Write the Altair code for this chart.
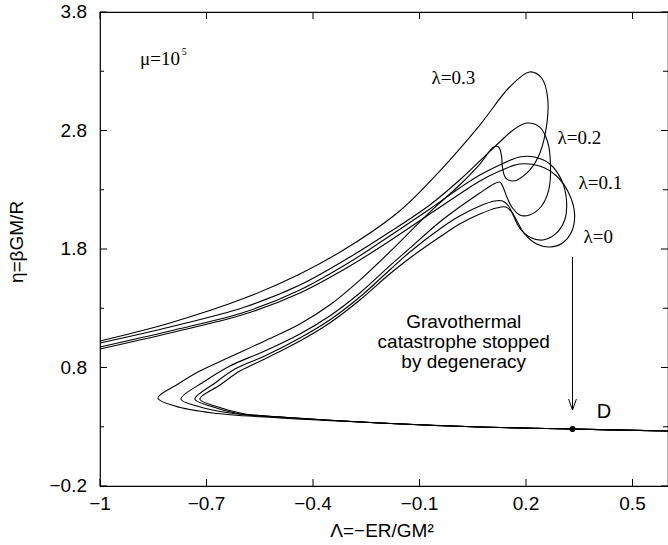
import altair as alt
import pandas as pd

# ---- data (x = Lambda, y = eta) ----
lam03_x = [-1.0, -0.803, -0.592, -0.437, -0.296, -0.156, -0.043, 0.070, 0.154, 0.210, 0.244, 0.261, 0.255,
           0.233, 0.202, 0.165, 0.143, 0.134, 0.131, 0.123, 0.109, 0.070, 0.013, -0.071, -0.184, -0.268,
           -0.353, -0.437, -0.536, -0.634, -0.719, -0.780, -0.837, -0.789, -0.682, -0.493,
           -0.212, 0.070, 0.331, 0.6]
lam03_y = [1.024, 1.176, 1.386, 1.589, 1.825, 2.121, 2.458, 2.846, 3.167, 3.294, 3.243, 3.074, 2.787,
           2.568, 2.441, 2.374, 2.399, 2.484, 2.585, 2.661, 2.661, 2.517, 2.340, 2.112, 1.775, 1.538,
           1.327, 1.167, 1.024, 0.889, 0.770, 0.661, 0.543, 0.475, 0.416, 0.374,
           0.332, 0.298, 0.281, 0.264]

lam02_x = [-1.0, -0.803, -0.592, -0.437, -0.296, -0.184, -0.071, 0.013, 0.070, 0.126, 0.168, 0.202, 0.238,
           0.261, 0.269, 0.264, 0.244, 0.210, 0.182, 0.160, 0.146, 0.134, 0.126, 0.109, 0.070, 0.013,
           -0.043, -0.127, -0.184, -0.268, -0.353, -0.437, -0.536, -0.634, -0.704, -0.772, -0.727,
           -0.634, -0.493, -0.212, 0.070, 0.331, 0.6]
lam02_y = [1.007, 1.142, 1.311, 1.496, 1.732, 1.943, 2.171, 2.382, 2.543, 2.703, 2.813, 2.863, 2.830,
           2.703, 2.509, 2.298, 2.163, 2.087, 2.087, 2.154, 2.239, 2.332, 2.365, 2.349, 2.273, 2.154,
           2.028, 1.808, 1.657, 1.429, 1.235, 1.083, 0.939, 0.813, 0.686, 0.534, 0.475,
           0.416, 0.382, 0.332, 0.298, 0.281, 0.264]

lam01_x = [-1.0, -0.803, -0.592, -0.437, -0.296, -0.184, -0.071, 0.013, 0.070, 0.126, 0.182, 0.224, 0.267,
           0.300, 0.314, 0.309, 0.283, 0.247, 0.210, 0.182, 0.165, 0.151, 0.134, 0.112, 0.070, 0.013,
           -0.043, -0.127, -0.184, -0.268, -0.353, -0.437, -0.536, -0.620, -0.676, -0.733, -0.690,
           -0.606, -0.493, -0.212, 0.070, 0.331, 0.6]
lam01_y = [0.973, 1.108, 1.268, 1.454, 1.690, 1.910, 2.138, 2.315, 2.424, 2.509, 2.576, 2.576, 2.517,
           2.382, 2.214, 2.045, 1.927, 1.876, 1.901, 1.977, 2.078, 2.163, 2.205, 2.205, 2.163, 2.078,
           1.969, 1.775, 1.623, 1.395, 1.201, 1.049, 0.897, 0.787, 0.669, 0.534, 0.475,
           0.408, 0.382, 0.332, 0.298, 0.281, 0.264]

lam00_x = [-1.0, -0.803, -0.592, -0.437, -0.296, -0.184, -0.071, 0.013, 0.070, 0.126, 0.182, 0.238, 0.286,
           0.323, 0.337, 0.328, 0.303, 0.267, 0.230, 0.196, 0.176, 0.160, 0.143, 0.117, 0.070, 0.013,
           -0.043, -0.127, -0.184, -0.268, -0.353, -0.437, -0.536, -0.606, -0.662, -0.719, -0.676,
           -0.592, -0.493, -0.212, 0.070, 0.331, 0.6]
lam00_y = [0.956, 1.091, 1.251, 1.429, 1.657, 1.868, 2.095, 2.264, 2.374, 2.458, 2.517, 2.500, 2.416,
           2.256, 2.087, 1.943, 1.851, 1.817, 1.842, 1.927, 2.028, 2.112, 2.154, 2.146, 2.095, 2.011,
           1.901, 1.724, 1.589, 1.370, 1.176, 1.024, 0.872, 0.770, 0.652, 0.534, 0.475,
           0.408, 0.382, 0.332, 0.298, 0.281, 0.264]

curve_names = ["λ=0.3", "λ=0.2", "λ=0.1", "λ=0"]
curve_xs = [lam03_x, lam02_x, lam01_x, lam00_x]
curve_ys = [lam03_y, lam02_y, lam01_y, lam00_y]

label_text = ["λ=0.3", "λ=0.2", "λ=0.1", "λ=0"]
label_x = [-0.066, 0.289, 0.348, 0.362]
label_y = [3.243, 2.737, 2.357, 1.901]

note_lines = ["Gravothermal", "catastrophe stopped", "by degeneracy"]
note_x = [0.0245]
note_y = [1.184]

point_D_x = [0.331]
point_D_y = [0.281]
arrow_x = [0.331, 0.331]
arrow_y = [1.733, 0.441]
head_x = [0.320, 0.331, 0.342]
head_y = [0.534, 0.441, 0.534]

x_ticks = [-1.0, -0.7, -0.4, -0.1, 0.2, 0.5]
x_tick_labels = ["−1", "−0.7", "−0.4", "−0.1", "0.2", "0.5"]
y_major = [-0.2, 0.8, 1.8, 2.8, 3.8]
y_tick_labels = ["−0.2", "0.8", "1.8", "2.8", "3.8"]
y_minor = [0.3, 1.3, 2.3, 3.3]

x_title = "Λ=−ER/GM²"
y_title = "η=βGM/R"

# ---- build tables ----
rows = []
for name, xs, ys in zip(curve_names, curve_xs, curve_ys):
    for i, (a, b) in enumerate(zip(xs, ys)):
        rows.append({"curve": name, "i": i, "x": a, "y": b})
curves = pd.DataFrame(rows)

xscale = alt.Scale(domain=[-1.0, 0.6], nice=False, zero=False)
yscale = alt.Scale(domain=[-0.2, 3.8], nice=False, zero=False)

SANS = "Liberation Sans"
SERIF = "Liberation Serif"


def xq(field="x"):
    return alt.X(f"{field}:Q", scale=xscale, axis=None)


def yq(field="y"):
    return alt.Y(f"{field}:Q", scale=yscale, axis=None)


lines = alt.Chart(curves).mark_line(
    interpolate="catmull-rom", color="black", strokeWidth=1.1
).encode(x=xq(), y=yq(), detail="curve:N", order="i:Q")

xt = pd.DataFrame({"v": x_ticks, "t": x_tick_labels})
ymaj = pd.DataFrame({"v": y_major, "t": y_tick_labels})
ymin = pd.DataFrame({"v": y_minor})

tick_bottom = alt.Chart(xt).mark_rule(color="black", strokeWidth=1).encode(
    x=xq("v"), y=alt.value(474), y2=alt.value(467))
tick_top = alt.Chart(xt).mark_rule(color="black", strokeWidth=1).encode(
    x=xq("v"), y=alt.value(0), y2=alt.value(7))
tick_left_maj = alt.Chart(ymaj).mark_rule(color="black", strokeWidth=1).encode(
    y=yq("v"), x=alt.value(0), x2=alt.value(7))
tick_left_min = alt.Chart(ymin).mark_rule(color="black", strokeWidth=1).encode(
    y=yq("v"), x=alt.value(0), x2=alt.value(4))
tick_right_maj = alt.Chart(ymaj).mark_rule(color="black", strokeWidth=1).encode(
    y=yq("v"), x=alt.value(561), x2=alt.value(568))
tick_right_min = alt.Chart(ymin).mark_rule(color="black", strokeWidth=1).encode(
    y=yq("v"), x=alt.value(563), x2=alt.value(568))

x_labels = alt.Chart(xt).mark_text(
    font=SANS, fontSize=19, align="center", baseline="alphabetic", color="black"
).encode(x=xq("v"), y=alt.value(498), text="t:N")
y_labels = alt.Chart(ymaj).mark_text(
    font=SANS, fontSize=19, align="right", baseline="middle", color="black"
).encode(y=yq("v"), x=alt.value(-13), text="t:N")

x_title_mark = alt.Chart(pd.DataFrame({"t": [x_title]})).mark_text(
    font=SANS, fontSize=19, align="center", baseline="alphabetic", color="black"
).encode(x=alt.value(282), y=alt.value(525), text="t:N")
y_title_mark = alt.Chart(pd.DataFrame({"t": [y_title]})).mark_text(
    font=SANS, fontSize=19, align="center", baseline="middle", angle=270, color="black"
).encode(x=alt.value(-83), y=alt.value(230), text="t:N")

labels = alt.Chart(pd.DataFrame({"t": label_text, "x": label_x, "y": label_y})).mark_text(
    font=SERIF, fontSize=19, align="left", baseline="middle", color="black"
).encode(x=xq(), y=yq(), text="t:N")

mu_main = alt.Chart(pd.DataFrame({"t": ["μ=10"], "x": [-0.887], "y": [3.353]})).mark_text(
    font=SERIF, fontSize=19, align="left", baseline="alphabetic", color="black"
).encode(x=xq(), y=yq(), text="t:N")
mu_sup = alt.Chart(pd.DataFrame({"t": ["5"], "x": [-0.770], "y": [3.437]})).mark_text(
    font=SERIF, fontSize=10, align="left", baseline="alphabetic", color="black"
).encode(x=xq(), y=yq(), text="t:N")

note = alt.Chart(pd.DataFrame({"x": note_x, "y": note_y})).mark_text(
    font=SANS, fontSize=19, align="center", baseline="middle", lineHeight=20, color="black"
).encode(x=xq(), y=yq(), text=alt.value(note_lines))

d_label = alt.Chart(pd.DataFrame({"t": ["D"], "x": [0.399], "y": [0.374]})).mark_text(
    font=SANS, fontSize=20, align="left", baseline="alphabetic", color="black"
).encode(x=xq(), y=yq(), text="t:N")

arrow = alt.Chart(pd.DataFrame({"x": arrow_x, "y": arrow_y, "i": [0, 1]})).mark_line(
    color="black", strokeWidth=1).encode(x=xq(), y=yq(), order="i:Q")
head = alt.Chart(pd.DataFrame({"x": head_x, "y": head_y, "i": [0, 1, 2]})).mark_line(
    color="black", strokeWidth=1).encode(x=xq(), y=yq(), order="i:Q")

dpoint = alt.Chart(pd.DataFrame({"x": point_D_x, "y": point_D_y})).mark_circle(
    color="black", size=36, opacity=1).encode(x=xq(), y=yq())

chart = alt.layer(
    lines, tick_bottom, tick_top, tick_left_maj, tick_left_min, tick_right_maj, tick_right_min,
    x_labels, y_labels, x_title_mark, y_title_mark,
    labels, mu_main, mu_sup, note, d_label, arrow, head, dpoint
).properties(
    width=568, height=474,
    padding={"left": 100, "top": 12, "right": 0, "bottom": 59},
    autosize=alt.AutoSizeParams(type="none"),
    background="white",
).configure_view(stroke="black", strokeWidth=1.2)

chart.save("out.html", embed_options={"renderer": "svg", "actions": False})
